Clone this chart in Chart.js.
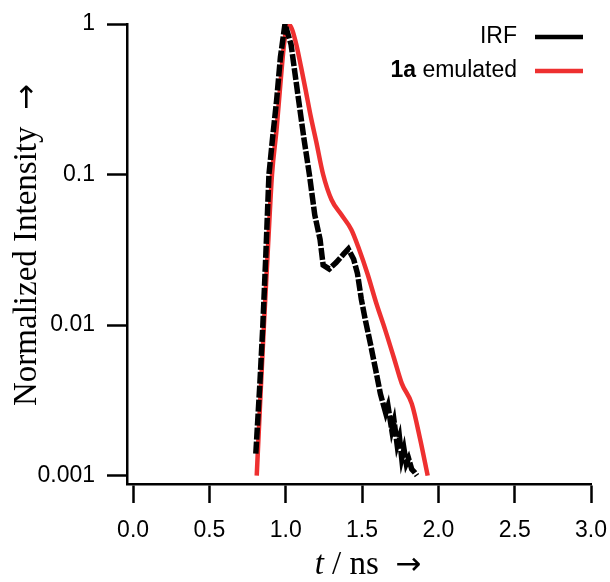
<!DOCTYPE html>
<html>
<head>
<meta charset="utf-8">
<script src="https://cdn.jsdelivr.net/npm/chart.js@4/dist/chart.umd.min.js"></script>
<style>
  html, body { margin: 0; padding: 0; background: #fff; }
  #wrap { width: 610px; height: 582px; }
</style>
</head>
<body>
<div id="wrap"><canvas id="decayChart" width="610" height="582"></canvas></div>
<script>
// time axis (ns) and normalized intensities
var irfT = [0.804, 0.83, 0.85, 0.87, 0.89, 0.915, 0.94, 0.965, 0.995, 1.035, 1.075, 1.12, 1.155, 1.19, 1.225, 1.245,
            1.285, 1.33, 1.38, 1.41, 1.445, 1.47, 1.495, 1.52, 1.555, 1.59, 1.62, 1.655, 1.67, 1.695, 1.71,
            1.73, 1.745, 1.76, 1.775, 1.79, 1.805, 1.826, 1.845, 1.86];
var irfI = [0.0014, 0.004, 0.01, 0.03, 0.1, 0.18, 0.31, 0.6, 1.0, 0.73, 0.366, 0.171, 0.1, 0.054, 0.037, 0.025,
            0.0236, 0.026, 0.0297, 0.032, 0.0274, 0.022, 0.0149, 0.011, 0.0075, 0.005, 0.0035, 0.0026, 0.0029, 0.002, 0.0023,
            0.0016, 0.0018, 0.0013, 0.0015, 0.0012, 0.0013, 0.0011, 0.00105, 0.001];
var emT = [0.81, 0.835, 0.857, 0.885, 0.91, 0.94, 0.965, 0.99, 1.015, 1.04, 1.07, 1.1, 1.13, 1.165, 1.2, 1.245, 1.3,
           1.365, 1.43, 1.48, 1.535, 1.595, 1.65, 1.71, 1.76, 1.826, 1.88, 1.93];
var emI = [0.001, 0.0035, 0.01, 0.035, 0.1, 0.2, 0.4, 0.75, 1.0, 0.93, 0.726, 0.52, 0.366, 0.24, 0.165, 0.1, 0.068,
           0.054, 0.043, 0.032, 0.022, 0.0138, 0.0094, 0.006, 0.0041, 0.003, 0.00176, 0.001];
var xTicks = [0.0, 0.5, 1.0, 1.5, 2.0, 2.5, 3.0];
var yTicks = [1, 0.1, 0.01, 0.001];
var yTickLabels = ['1', '0.1', '0.01', '0.001'];

function toPoints(xs, ys) {
    return xs.map(function(x, i) { return { x: x, y: ys[i] }; });
}

var tickFont = { family: 'Liberation Sans', size: 23 };
var titleFont = '33px Liberation Serif';
var arrowFont = '31px DejaVu Sans';

// draws a row of text pieces centred on 0
function drawPieces(ctx, pieces, y) {
    var total = 0;
    pieces.forEach(function(p) {
        ctx.font = p.font;
        p.w = ctx.measureText(p.text).width;
        total += p.w;
    });
    var x = -total / 2;
    pieces.forEach(function(p) {
        ctx.font = p.font;
        ctx.fillText(p.text, x, y);
        x += p.w;
    });
}

var overlay = {
    id: 'overlay',
    afterDraw: function(chart) {
        var ctx = chart.ctx;
        ctx.save();
        ctx.fillStyle = '#000';
        ctx.textAlign = 'left';
        ctx.textBaseline = 'alphabetic';

        // y axis title
        ctx.save();
        ctx.translate(36, 245);
        ctx.rotate(-Math.PI / 2);
        drawPieces(ctx, [
            { text: 'Normalized Intensity  ', font: titleFont },
            { text: '\u2192', font: arrowFont }
        ], 0);
        ctx.restore();

        // x axis title with italic t
        ctx.save();
        ctx.translate(368, 574);
        drawPieces(ctx, [
            { text: 't', font: 'italic ' + titleFont },
            { text: ' / ns  ', font: titleFont },
            { text: '\u2192', font: arrowFont }
        ], 0);
        ctx.restore();

        // legend in the top right corner
        var rightEdge = 517;
        var rows = [
            { y: 37, color: '#000000', bold: '', rest: chart.data.datasets[0].label },
            { y: 71, color: '#ee3030', bold: '1a', rest: ' emulated' }
        ];
        ctx.textBaseline = 'middle';
        rows.forEach(function(r) {
            ctx.font = '23px Liberation Sans';
            var wr = ctx.measureText(r.rest).width;
            ctx.font = 'bold 23px Liberation Sans';
            var wb = r.bold ? ctx.measureText(r.bold).width : 0;
            var sx = rightEdge - wr - wb;
            if (r.bold) ctx.fillText(r.bold, sx, r.y);
            ctx.font = '23px Liberation Sans';
            ctx.fillText(r.rest, sx + wb, r.y);
            ctx.strokeStyle = r.color;
            ctx.lineWidth = 4.5;
            ctx.beginPath();
            ctx.moveTo(535, r.y);
            ctx.lineTo(583, r.y);
            ctx.stroke();
        });
        ctx.restore();
    }
};

var ctx = document.getElementById('decayChart').getContext('2d');
var decayChart = new Chart(ctx, {
    type: 'line',
    data: {
        datasets: [{
            label: 'IRF',
            data: toPoints(irfT, irfI),
            borderColor: '#000000',
            borderWidth: 5.5,
            borderDash: [12, 2],
            pointRadius: 0,
            tension: 0
        }, {
            label: '1a emulated',
            data: toPoints(emT, emI),
            borderColor: '#ee3030',
            borderWidth: 4.5,
            pointRadius: 0,
            cubicInterpolationMode: 'monotone'
        }]
    },
    options: {
        responsive: false,
        animation: false,
        layout: { padding: { top: 24, right: 19, left: 0, bottom: 0 } },
        plugins: {
            legend: { display: false },
            tooltip: { enabled: false }
        },
        scales: {
            x: {
                type: 'linear',
                min: -0.04,
                max: 3.0,
                afterBuildTicks: function(scale) {
                    scale.ticks = xTicks.map(function(v) { return { value: v }; });
                },
                afterFit: function(scale) {
                    scale.height = 98;
                    scale.paddingLeft = 0;
                    scale.paddingRight = 0;
                },
                ticks: {
                    font: tickFont,
                    color: '#000',
                    padding: 14,
                    maxRotation: 0,
                    callback: function(v) { return v.toFixed(1); }
                },
                grid: {
                    display: true,
                    drawOnChartArea: false,
                    drawTicks: true,
                    tickLength: 19,
                    tickWidth: 2.5,
                    tickColor: '#000'
                },
                border: { display: true, color: '#000', width: 2.5 }
            },
            y: {
                type: 'logarithmic',
                min: 0.00088,
                max: 1,
                afterBuildTicks: function(scale) {
                    scale.ticks = yTicks.map(function(v) { return { value: v }; });
                },
                afterFit: function(scale) {
                    scale.width = 127;
                    scale.paddingTop = 0;
                    scale.paddingBottom = 0;
                },
                ticks: {
                    font: tickFont,
                    color: '#000',
                    padding: 12,
                    callback: function(v) {
                        var i = yTicks.indexOf(v);
                        return i >= 0 ? yTickLabels[i] : '';
                    }
                },
                grid: {
                    display: true,
                    drawOnChartArea: false,
                    drawTicks: true,
                    tickLength: 20,
                    tickWidth: 2.5,
                    tickColor: '#000'
                },
                border: { display: true, color: '#000', width: 2.5 }
            }
        }
    },
    plugins: [overlay]
});
</script>
</body>
</html>
